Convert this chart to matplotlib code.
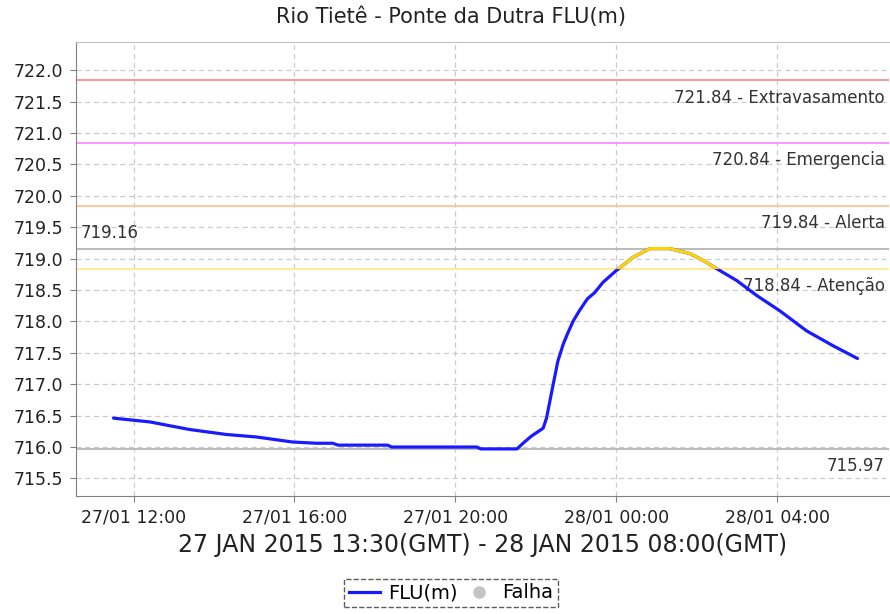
import matplotlib
matplotlib.use("Agg")
import matplotlib.pyplot as plt
import matplotlib.dates as mdates
import matplotlib.transforms as mtransforms
from matplotlib.lines import Line2D
from matplotlib.patches import Rectangle
import pandas as pd

# FLU(m) readings, local time (GMT-2)
times = ["2015-01-27 11:30", "2015-01-27 12:24", "2015-01-27 13:23", "2015-01-27 14:18",
         "2015-01-27 15:03", "2015-01-27 15:57", "2015-01-27 16:33", "2015-01-27 16:57",
         "2015-01-27 17:05", "2015-01-27 18:19", "2015-01-27 18:25", "2015-01-27 20:32",
         "2015-01-27 20:38", "2015-01-27 21:32", "2015-01-27 21:41", "2015-01-27 21:53",
         "2015-01-27 22:11", "2015-01-27 22:16", "2015-01-27 22:21", "2015-01-27 22:26",
         "2015-01-27 22:33", "2015-01-27 22:41", "2015-01-27 22:48", "2015-01-27 22:56",
         "2015-01-27 23:05", "2015-01-27 23:17", "2015-01-27 23:28", "2015-01-27 23:40",
         "2015-01-28 00:00", "2015-01-28 00:25", "2015-01-28 00:50", "2015-01-28 01:20",
         "2015-01-28 01:50", "2015-01-28 02:10", "2015-01-28 02:30", "2015-01-28 03:00",
         "2015-01-28 03:30", "2015-01-28 04:04", "2015-01-28 04:44", "2015-01-28 05:24",
         "2015-01-28 06:00"]
flu = [716.46, 716.40, 716.28, 716.20,
       716.16, 716.08, 716.06, 716.06,
       716.03, 716.03, 716.00, 716.00,
       715.97, 715.97, 716.06, 716.17,
       716.30, 716.46, 716.73, 717.00,
       717.37, 717.64, 717.82, 718.01,
       718.17, 718.36, 718.46, 718.62,
       718.81, 719.02, 719.16, 719.16,
       719.08, 718.97, 718.84, 718.65,
       718.41, 718.17, 717.85, 717.61,
       717.41]

limit_values = [721.84, 720.84, 719.84, 718.84]
limit_names = ["Extravasamento", "Emergencia", "Alerta", "Atenção"]
limit_colors = ["#ff8a8a", "#ff8cff", "#ffc490", "#ffea8a"]

period_label = "27 JAN 2015 13:30(GMT) - 28 JAN 2015 08:00(GMT)"

t = pd.to_datetime(times)
txt = "#333333"

fig = plt.figure(figsize=(8.9, 6.14), dpi=100)
ax = fig.add_axes([76 / 890, 118 / 614, 813 / 890, 454 / 614])

ax.set_xlim(pd.Timestamp("2015-01-27 10:34"), pd.Timestamp("2015-01-28 06:47"))
ax.set_ylim(715.22, 722.45)

ax.grid(True, color="#cccccc", linestyle=(0, (4, 3)), linewidth=0.9)
ax.set_axisbelow(True)

for v, name, c in zip(limit_values, limit_names, limit_colors):
    ax.axhline(v, color=c, linewidth=1.3, zorder=2)
    ax.annotate("%.2f - %s" % (v, name), xy=(1, v), xycoords=("axes fraction", "data"),
                xytext=(-3, -6), textcoords="offset points", ha="right", va="top",
                fontsize=12, color=txt)

vmax = max(flu)
vmin = min(flu)
ax.axhline(vmax, color="#b4b4b4", linewidth=1.3, zorder=2)
ax.axhline(vmin, color="#b4b4b4", linewidth=1.3, zorder=2)
ax.annotate("%.2f" % vmax, xy=(0, vmax), xycoords=("axes fraction", "data"),
            xytext=(3, 5), textcoords="offset points", ha="left", va="bottom",
            fontsize=12, color=txt)
ax.annotate("%.2f" % vmin, xy=(1, vmin), xycoords=("axes fraction", "data"),
            xytext=(-3, -6), textcoords="offset points", ha="right", va="top",
            fontsize=12, color=txt)

ax.plot(t, flu, color="#1a1aff", linewidth=2.3, zorder=3, solid_capstyle="round")
# part above the "Atenção" level is drawn yellow
hi, = ax.plot(t, flu, color="#ffd400", linewidth=2.3, zorder=4)
trans = mtransforms.blended_transform_factory(ax.transAxes, ax.transData)
clip = Rectangle((0, limit_values[3]), 1, 10, transform=trans)
hi.set_clip_path(clip)

ax.xaxis.set_major_locator(mdates.HourLocator(byhour=range(0, 24, 4)))
ax.xaxis.set_major_formatter(mdates.DateFormatter("%d/%m %H:%M"))
ax.set_yticks([715.5 + 0.5 * i for i in range(14)])
ax.yaxis.set_major_formatter(matplotlib.ticker.FormatStrFormatter("%.1f"))
ax.tick_params(labelsize=12.5, labelcolor="#222222", color="#808080", length=4, pad=5)

for s in ["left", "bottom"]:
    ax.spines[s].set_color("#808080")
ax.spines["top"].set_color("#c0c0c0")
ax.spines["right"].set_visible(False)

ax.set_xlabel(period_label, fontsize=17, color="#222222", labelpad=5)
fig.text(451 / 890, 1 - 17 / 614, "Rio Tietê - Ponte da Dutra FLU(m)", ha="center",
         va="center", fontsize=15, color="#222222")

handles = [Line2D([], [], color="#1a1aff", linewidth=2.3),
           Line2D([], [], linestyle="none", marker="o", markersize=8,
                  markerfacecolor="#c4c4c4", markeredgecolor="#c4c4c4")]
leg = fig.legend(handles, ["FLU(m)", "Falha"], loc="center", ncol=2,
                 bbox_to_anchor=(451 / 890, 1 - 593 / 614), fontsize=14,
                 fancybox=False, handlelength=1.6, handletextpad=0.4,
                 columnspacing=0.3, borderpad=0.25, borderaxespad=0)
fr = leg.get_frame()
fr.set_edgecolor("#333333")
fr.set_linestyle("--")
fr.set_linewidth(1.0)

fig.savefig("out.png", dpi=100)
